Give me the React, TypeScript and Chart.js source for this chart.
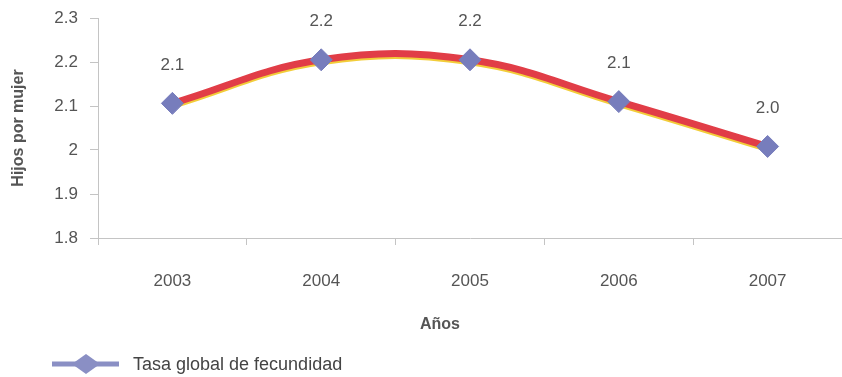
import React, { useEffect, useRef } from "react";
import { Chart, registerables } from "chart.js";

Chart.register(...registerables);

const years = ["2003", "2004", "2005", "2006", "2007"];
const fertility = [2.106, 2.205, 2.205, 2.11, 2.008];
const seriesLabel = "Tasa global de fecundidad";
const yAxisTitle = "Hijos por mujer";
const xAxisTitle = "Años";
const Y_MIN = 1.8;
const Y_MAX = 2.3;
const Y_STEP = 0.1;

const FONT = '"Liberation Sans", Arial, Helvetica, sans-serif';
const TEXT = "#555555";
const LINE_RED = "#e13d47";
const LINE_YELLOW = "#f2cd3a";
const POINT_BLUE = "#777dbc";
const LEGEND_BLUE = "#8a8fc4";
const AXIS = "#c4c4c4";

const lineShadow = {
  id: "lineShadow",
  beforeDatasetDraw(chart: any, args: any) {
    if (args.index !== 0) return;
    const ctx = chart.ctx;
    ctx.save();
    ctx.shadowColor = LINE_YELLOW;
    ctx.shadowOffsetX = 0;
    ctx.shadowOffsetY = 2;
    ctx.shadowBlur = 0;
  },
  afterDatasetDraw(chart: any, args: any) {
    if (args.index !== 0) return;
    chart.ctx.restore();
  },
};

const valueLabels = {
  id: "valueLabels",
  afterDatasetsDraw(chart: any) {
    const meta = chart.getDatasetMeta(1);
    const ds = chart.data.datasets[1];
    const ctx = chart.ctx;
    ctx.save();
    ctx.font = `17px ${FONT}`;
    ctx.fillStyle = TEXT;
    ctx.textAlign = "center";
    ctx.textBaseline = "middle";
    meta.data.forEach((el: any, i: number) => {
      const v = ds.data[i] as number;
      ctx.fillText(v.toFixed(1), el.x, el.y - 38);
    });
    ctx.restore();
  },
};

const extraText = {
  id: "extraText",
  afterDraw(chart: any) {
    const ctx = chart.ctx;
    ctx.save();
    // x-axis title
    ctx.font = `bold 16px ${FONT}`;
    ctx.fillStyle = TEXT;
    ctx.textAlign = "center";
    ctx.textBaseline = "middle";
    ctx.fillText(xAxisTitle, 440, 325);
    // legend
    const ly = 364;
    ctx.strokeStyle = LEGEND_BLUE;
    ctx.lineWidth = 5;
    ctx.beginPath();
    ctx.moveTo(52, ly);
    ctx.lineTo(119, ly);
    ctx.stroke();
    ctx.fillStyle = LEGEND_BLUE;
    ctx.beginPath();
    ctx.moveTo(86 - 14, ly);
    ctx.lineTo(86, ly - 10);
    ctx.lineTo(86 + 14, ly);
    ctx.lineTo(86, ly + 10);
    ctx.closePath();
    ctx.fill();
    ctx.font = `18px ${FONT}`;
    ctx.fillStyle = "#444444";
    ctx.textAlign = "left";
    ctx.fillText(seriesLabel, 133, ly + 1);
    ctx.restore();
  },
};

export default function App() {
  const ref = useRef<HTMLCanvasElement | null>(null);

  useEffect(() => {
    document.body.style.margin = "0";
    document.body.style.overflow = "hidden";
    const canvas = ref.current;
    if (!canvas) return;
    const chart = new Chart(canvas, {
      type: "line",
      data: {
        labels: years,
        datasets: [
          {
            label: seriesLabel,
            data: fertility,
            borderColor: LINE_RED,
            borderWidth: 7,
            tension: 0.4,
            pointRadius: 0,
            fill: false,
            order: 2,
          },
          {
            label: seriesLabel,
            data: fertility,
            showLine: false,
            pointStyle: "rectRot",
            pointRadius: 11,
            pointBackgroundColor: POINT_BLUE,
            pointBorderColor: POINT_BLUE,
            pointBorderWidth: 1,
            order: 1,
          },
        ],
      },
      options: {
        responsive: false,
        animation: false,
        layout: { autoPadding: false, padding: { top: 18, right: -6, bottom: 0, left: 0 } },
        plugins: {
          legend: { display: false },
          tooltip: { enabled: false },
        },
        scales: {
          x: {
            offset: true,
            grid: {
              display: true,
              drawOnChartArea: false,
              offset: true,
              tickLength: 7,
              color: AXIS,
            },
            border: { display: true, color: AXIS },
            ticks: {
              padding: 26,
              color: TEXT,
              font: { family: FONT, size: 17 },
              maxRotation: 0,
            },
            afterFit: (scale: any) => {
              scale.height = 139;
              scale.paddingLeft = 0;
              scale.paddingRight = -6;
            },
          },
          y: {
            min: Y_MIN,
            max: Y_MAX,
            grid: {
              display: true,
              drawOnChartArea: false,
              tickLength: 8,
              color: AXIS,
            },
            border: { display: true, color: AXIS },
            ticks: {
              stepSize: Y_STEP,
              padding: 12,
              color: TEXT,
              font: { family: FONT, size: 17 },
              callback: (v: any) => String(Math.round(Number(v) * 10) / 10),
            },
            title: {
              display: true,
              text: yAxisTitle,
              color: TEXT,
              font: { family: FONT, size: 16, weight: "bold" },
              padding: { top: 9, bottom: 0 },
            },
            afterFit: (scale: any) => {
              scale.width = 98;
              scale.paddingTop = 0;
              scale.paddingBottom = 0;
              scale.paddingLeft = 0;
              scale.paddingRight = -6;
            },
          },
        },
      },
      plugins: [lineShadow, valueLabels, extraText],
    });
    return () => chart.destroy();
  }, []);

  return <canvas ref={ref} width={842} height={377} style={{ display: "block" }} />;
}
